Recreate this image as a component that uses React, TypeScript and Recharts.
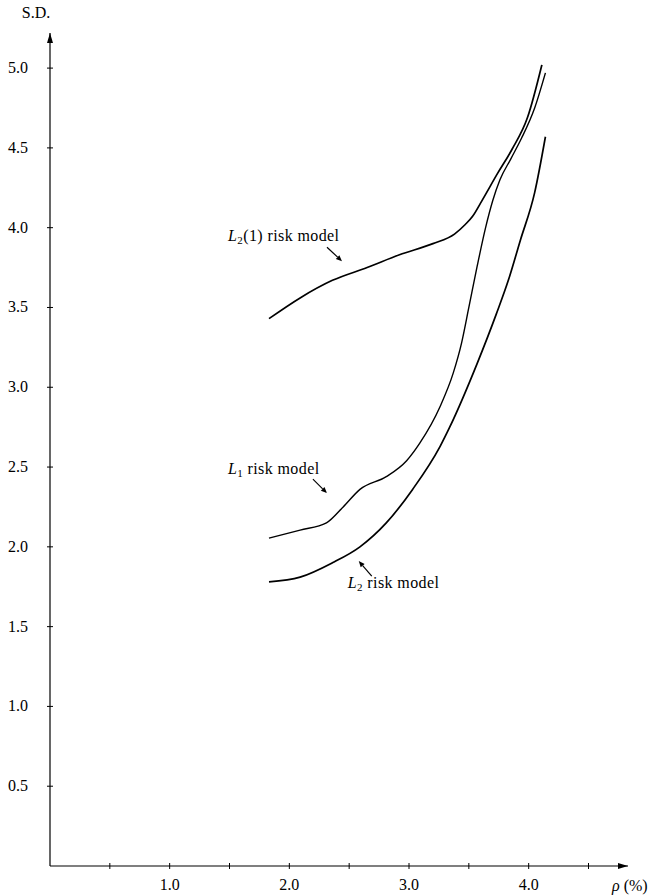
import React from 'react';
import { LineChart, Line, XAxis, YAxis, ReferenceDot } from 'recharts';

// rho (%) against S.D. for the three risk models
const rhoL21 = [1.83, 2.09, 2.36, 2.65, 2.92, 3.2, 3.38, 3.47, 3.53, 3.61, 3.74, 3.86, 3.99, 4.11];
const sdL21 = [3.43, 3.56, 3.67, 3.75, 3.83, 3.9, 3.96, 4.02, 4.07, 4.17, 4.34, 4.49, 4.69, 5.02];

const rhoL1 = [1.83, 2.09, 2.31, 2.45, 2.59, 2.81, 2.98, 3.09, 3.26, 3.37, 3.44, 3.5, 3.57, 3.64, 3.7, 3.76, 3.85, 3.94, 4.05, 4.14];
const sdL1 = [2.055, 2.105, 2.15, 2.25, 2.36, 2.44, 2.54, 2.65, 2.88, 3.09, 3.28, 3.5, 3.76, 4.0, 4.17, 4.3, 4.43, 4.56, 4.75, 4.97];

const rhoL2 = [1.83, 2.09, 2.36, 2.59, 2.81, 3.03, 3.26, 3.34, 3.57, 3.73, 3.83, 3.93, 4.05, 4.14];
const sdL2 = [1.78, 1.81, 1.9, 2.0, 2.15, 2.36, 2.63, 2.75, 3.15, 3.46, 3.67, 3.92, 4.22, 4.57];

const xTicks = [0.5, 1, 1.5, 2, 2.5, 3, 3.5, 4, 4.5];
const yTicks = [0.5, 1, 1.5, 2, 2.5, 3, 3.5, 4, 4.5, 5];

const zip = (xs: number[], ys: number[]) => xs.map((x, i) => ({ x, y: ys[i] }));

const FONT = '"Liberation Serif", "DejaVu Serif", serif';
const FS = 16;

const XTick = (props: any) => {
    const { x, y, payload } = props;
    const v = payload.value as number;
    return (
        <g>
            <line x1={x} x2={x} y1={y - 3} y2={y + 3} stroke="#000" strokeWidth={1} />
            {Number.isInteger(v) && (
                <text x={x} y={y + 24} textAnchor="middle" fontFamily={FONT} fontSize={FS} fill="#000">
                    {v.toFixed(1)}
                </text>
            )}
        </g>
    );
};

const YTick = (props: any) => {
    const { x, y, payload } = props;
    return (
        <g>
            <line x1={x - 3} x2={x + 3} y1={y} y2={y} stroke="#000" strokeWidth={1} />
            <text x={x - 22} y={y + 5} textAnchor="end" fontFamily={FONT} fontSize={FS} fill="#000">
                {(payload.value as number).toFixed(1)}
            </text>
        </g>
    );
};

// small arrow from tail (tx,ty relative to tip) to the tip
const Arrow = ({ cx, cy, tx, ty }: { cx: number; cy: number; tx: number; ty: number }) => {
    const x1 = cx + tx;
    const y1 = cy + ty;
    const len = Math.hypot(cx - x1, cy - y1);
    const ux = (cx - x1) / len;
    const uy = (cy - y1) / len;
    const hl = 6;
    const hw = 2.6;
    const bx = cx - ux * hl;
    const by = cy - uy * hl;
    const pts = `${cx},${cy} ${bx - uy * hw},${by + ux * hw} ${bx + uy * hw},${by - ux * hw}`;
    return (
        <g>
            <line x1={x1} y1={y1} x2={bx} y2={by} stroke="#000" strokeWidth={1.2} />
            <polygon points={pts} fill="#000" />
        </g>
    );
};

const modelLabel = (sub: string, extra: string, tx: number, ty: number, lx: number, ly: number) => (p: any) => (
    <g>
        <Arrow cx={p.cx} cy={p.cy} tx={tx} ty={ty} />
        <text x={p.cx + lx} y={p.cy + ly} fontFamily={FONT} fontSize={FS} fill="#000" letterSpacing={0.4}>
            <tspan fontStyle="italic">L</tspan>
            <tspan fontSize={11} dy={3}>{sub}</tspan>
            <tspan dy={-3}>{extra} risk model</tspan>
        </text>
    </g>
);

const yArrow = (p: any) => (
    <g>
        <polygon points={`${p.cx},${p.cy} ${p.cx - 3},${p.cy + 10} ${p.cx + 3},${p.cy + 10}`} fill="#000" />
        <text x={p.cx - 14} y={p.cy - 15} textAnchor="middle" fontFamily={FONT} fontSize={FS} fill="#000">S.D.</text>
    </g>
);

const xArrow = (p: any) => (
    <g>
        <polygon points={`${p.cx},${p.cy} ${p.cx - 10},${p.cy - 3} ${p.cx - 10},${p.cy + 3}`} fill="#000" />
        <text x={p.cx - 16} y={p.cy + 25} fontFamily={FONT} fontSize={FS} fill="#000">
            <tspan fontStyle="italic">ρ</tspan> (%)
        </text>
    </g>
);

export default function App() {
    const lineProps = {
        dataKey: 'y',
        stroke: '#000',
        dot: false,
        activeDot: false,
        isAnimationActive: false,
        type: 'monotone' as const,
    };
    return (
        <div style={{ position: 'absolute', left: 0, top: 0, background: '#fff' }}>
            <LineChart width={653} height={895} margin={{ top: 33, right: 25, bottom: 0, left: 0 }}>
                <XAxis
                    type="number"
                    dataKey="x"
                    domain={[0, 4.83]}
                    ticks={xTicks}
                    height={29}
                    tickSize={0}
                    tickMargin={0}
                    tickLine={false}
                    tick={<XTick />}
                    axisLine={{ stroke: '#000', strokeWidth: 1.2 }}
                    allowDataOverflow
                />
                <YAxis
                    type="number"
                    domain={[0, 5.22]}
                    ticks={yTicks}
                    width={50}
                    tickSize={0}
                    tickMargin={0}
                    tickLine={false}
                    tick={<YTick />}
                    axisLine={{ stroke: '#000', strokeWidth: 1.2 }}
                    allowDataOverflow
                />
                <Line {...lineProps} data={zip(rhoL21, sdL21)} strokeWidth={1.7} />
                <Line {...lineProps} data={zip(rhoL1, sdL1)} strokeWidth={1.4} />
                <Line {...lineProps} data={zip(rhoL2, sdL2)} strokeWidth={1.7} />
                <ReferenceDot x={2.44} y={3.79} ifOverflow="visible" shape={modelLabel('2', '(1)', -15, -14, -114, -20)} />
                <ReferenceDot x={2.314} y={2.337} ifOverflow="visible" shape={modelLabel('1', '', -14, -14, -99, -19)} />
                <ReferenceDot x={2.58} y={1.911} ifOverflow="visible" shape={modelLabel('2', '', 13, 15, -11, 27)} />
                <ReferenceDot x={0} y={5.22} ifOverflow="visible" shape={yArrow} />
                <ReferenceDot x={4.83} y={0} ifOverflow="visible" shape={xArrow} />
            </LineChart>
        </div>
    );
}
